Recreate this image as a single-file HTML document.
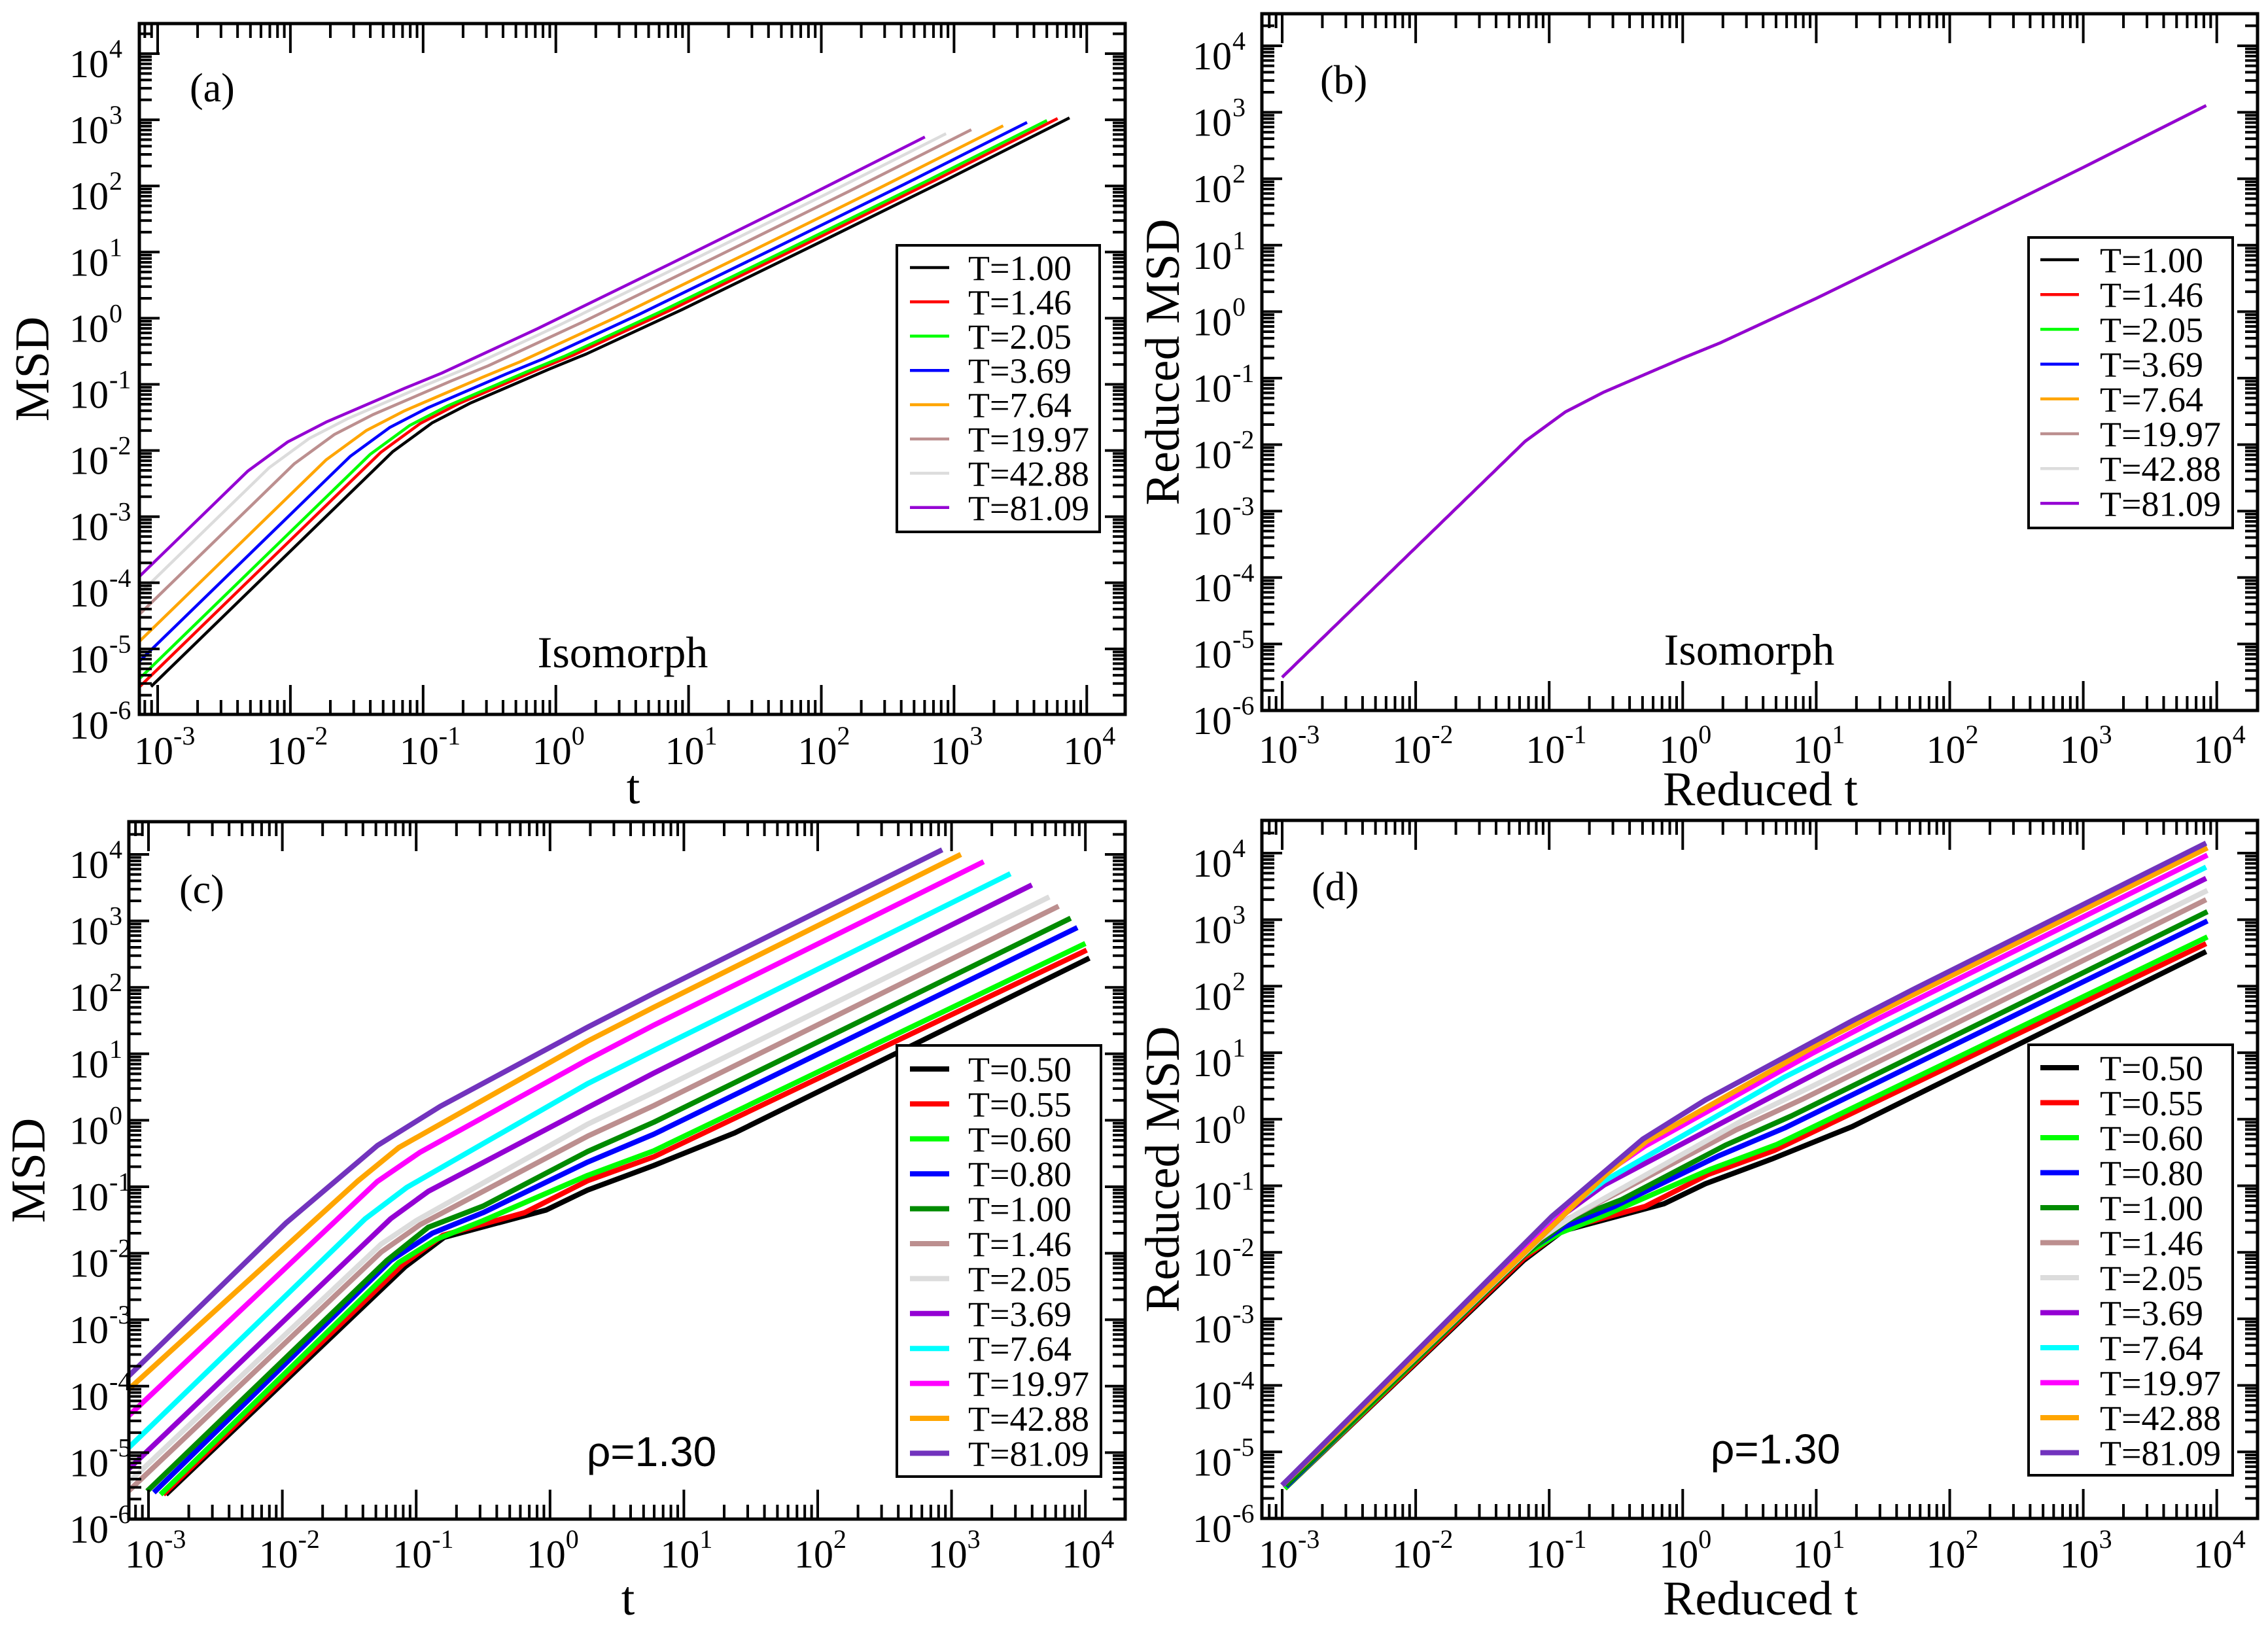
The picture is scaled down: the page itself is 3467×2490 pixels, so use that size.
<!DOCTYPE html>
<html><head><meta charset="utf-8">
<style>
html,body{margin:0;padding:0;background:#fff;}
svg{display:block;}
text{font-family:"Liberation Serif",serif;}
</style></head>
<body>
<svg id="fig" width="3467" height="2490" viewBox="0 0 3467 2490" xmlns="http://www.w3.org/2000/svg">
<rect x="0" y="0" width="3467" height="2490" fill="#fff"/>
</svg>
<script>
// ---------- DATA (log10 values) ----------
// Panel (a): isomorph, MSD vs t
const aLabels = ["T=1.00","T=1.46","T=2.05","T=3.69","T=7.64","T=19.97","T=42.88","T=81.09"];
const aLogT = [
 [-3.05,-1.23,-0.93,-0.64,-0.05,0.23,0.95,1.95,2.95,3.87],
 [-3.14,-1.32,-1.02,-0.73,-0.14,0.14,0.86,1.86,2.86,3.78],
 [-3.22,-1.40,-1.10,-0.81,-0.22,0.06,0.78,1.78,2.78,3.70],
 [-3.37,-1.55,-1.25,-0.96,-0.37,-0.09,0.63,1.63,2.63,3.55],
 [-3.55,-1.73,-1.43,-1.14,-0.55,-0.27,0.45,1.45,2.45,3.37],
 [-3.79,-1.97,-1.67,-1.38,-0.79,-0.51,0.21,1.21,2.21,3.13],
 [-3.98,-2.16,-1.86,-1.57,-0.98,-0.70,0.02,1.02,2.02,2.94],
 [-4.14,-2.32,-2.02,-1.73,-1.14,-0.86,-0.14,0.86,1.86,2.78]
];
const aLogMSD = [
 [-5.57,-2.02,-1.58,-1.28,-0.77,-0.54,0.13,1.11,2.10,3.03],
 [-5.58,-2.03,-1.59,-1.29,-0.78,-0.55,0.12,1.10,2.09,3.02],
 [-5.61,-2.06,-1.62,-1.32,-0.81,-0.58,0.09,1.07,2.06,2.99],
 [-5.64,-2.09,-1.65,-1.35,-0.84,-0.61,0.06,1.04,2.03,2.96],
 [-5.69,-2.14,-1.70,-1.40,-0.89,-0.66,0.01,0.99,1.98,2.91],
 [-5.75,-2.20,-1.76,-1.46,-0.95,-0.72,-0.05,0.93,1.92,2.85],
 [-5.81,-2.26,-1.82,-1.52,-1.01,-0.78,-0.11,0.87,1.86,2.79],
 [-5.86,-2.31,-1.87,-1.57,-1.06,-0.83,-0.16,0.82,1.81,2.74]
];
// Panel (b): reduced units, all isomorph curves collapse
const bLabels = aLabels;
const bLogT = [-3,-1.18,-0.88,-0.59,0,0.28,1,2,3,3.92];
const bLogMSD = [-5.5,-1.95,-1.51,-1.21,-0.70,-0.47,0.20,1.18,2.17,3.10];
// Panel (c): rho = 1.30, MSD vs t
const cLabels = ["T=0.50","T=0.55","T=0.60","T=0.80","T=1.00","T=1.46","T=2.05","T=3.69","T=7.64","T=19.97","T=42.88","T=81.09"];
const cLogT = [
 [-2.87,-1.08,-0.79,-0.03,0.28,0.775,1.38,4.03],
 [-2.89,-1.10,-0.80,-0.19,0.28,0.775,4.01],
 [-2.91,-1.13,-0.85,-0.5,0.28,0.775,4.0],
 [-2.96,-1.19,-0.88,-0.5,0.28,0.775,3.94],
 [-3.01,-1.22,-0.91,-0.5,0.28,0.775,3.89],
 [-3.15,-1.26,-0.97,0.28,0.775,3.80],
 [-3.15,-1.26,-1.0,0.28,0.775,3.73],
 [-3.15,-1.19,-0.91,0.28,0.775,3.60],
 [-3.15,-1.38,-1.07,0.28,0.775,3.44],
 [-3.15,-1.29,-0.97,0.28,0.775,3.24],
 [-3.15,-1.44,-1.13,0.28,0.775,3.07],
 [-3.15,-1.97,-1.29,-0.82,0.28,0.775,2.93]
];
const cLogMSD = [
 [-5.63,-2.20,-1.76,-1.35,-1.05,-0.68,-0.19,2.44],
 [-5.63,-2.17,-1.73,-1.39,-0.91,-0.55,2.56],
 [-5.63,-2.14,-1.79,-1.51,-0.83,-0.46,2.66],
 [-5.60,-2.11,-1.70,-1.39,-0.63,-0.21,2.90],
 [-5.58,-2.11,-1.61,-1.29,-0.47,-0.03,3.04],
 [-5.58,-1.98,-1.57,-0.24,0.22,3.22],
 [-5.45,-1.86,-1.51,-0.06,0.42,3.36],
 [-5.25,-1.48,-1.07,0.19,0.71,3.54],
 [-4.93,-1.48,-1.01,0.55,1.05,3.71],
 [-4.45,-0.92,-0.48,0.91,1.43,3.89],
 [-4.05,-0.92,-0.41,1.19,1.70,4.0],
 [-3.85,-1.54,-0.38,0.21,1.40,1.91,4.07]
];
// Panel (d): rho = 1.30, reduced units
const dLabels = cLabels;
const dLogT = [
 [-2.98,-1.19,-0.90,-0.14,0.17,0.665,1.27,3.92],
 [-2.98,-1.19,-0.89,-0.28,0.19,0.685,3.92],
 [-2.98,-1.20,-0.92,-0.57,0.21,0.705,3.93],
 [-2.97,-1.20,-0.89,-0.51,0.27,0.765,3.93],
 [-2.97,-1.18,-0.87,-0.46,0.32,0.815,3.93],
 [-3.0,-1.14,-0.85,0.40,0.895,3.92],
 [-3.0,-1.06,-0.80,0.48,0.975,3.93],
 [-3.0,-0.87,-0.59,0.60,1.095,3.92],
 [-3.0,-0.90,-0.59,0.76,1.255,3.92],
 [-3.0,-0.60,-0.28,0.97,1.465,3.93],
 [-3.0,-0.58,-0.27,1.14,1.635,3.93],
 [-3.0,-0.98,-0.30,0.17,1.27,1.765,3.92]
];
const dLogMSD = [
 [-5.55,-2.12,-1.68,-1.27,-0.97,-0.60,-0.11,2.52],
 [-5.55,-2.09,-1.65,-1.31,-0.83,-0.47,2.64],
 [-5.55,-2.06,-1.71,-1.43,-0.75,-0.38,2.74],
 [-5.52,-2.03,-1.62,-1.31,-0.55,-0.13,2.98],
 [-5.50,-2.03,-1.53,-1.21,-0.39,0.05,3.12],
 [-5.5,-1.90,-1.49,-0.16,0.30,3.30],
 [-5.5,-1.78,-1.43,0.02,0.50,3.44],
 [-5.5,-1.40,-0.99,0.27,0.79,3.62],
 [-5.5,-1.40,-0.93,0.63,1.13,3.79],
 [-5.5,-0.84,-0.40,0.99,1.51,3.97],
 [-5.5,-0.84,-0.33,1.27,1.78,4.08],
 [-5.5,-1.46,-0.30,0.29,1.48,1.99,4.15]
];
const xTickExps = [-3,-2,-1,0,1,2,3,4];
const yTickExps = [-6,-5,-4,-3,-2,-1,0,1,2,3,4];

// ---------- STYLE / LAYOUT ----------
const colors8 = ["#000000","#ff0000","#00ff00","#0000ff","#ffa500","#bc8f8f","#dcdcdc","#9400d3"];
const colors12 = ["#000000","#ff0000","#00ff00","#0000ff","#008b00","#bc8f8f","#dcdcdc","#9400d3","#00ffff","#ff00ff","#ffa500","#7233bd"];
const NS = "http://www.w3.org/2000/svg";
const svg = document.getElementById("fig");
function mk(tag, attrs, parent){
  const e = document.createElementNS(NS, tag);
  for (const k in attrs) e.setAttribute(k, attrs[k]);
  (parent || svg).appendChild(e);
  return e;
}
const panels = [
 {id:"a", L:213, R:1720, T:36, B:1092, x0:241, dx:202.9, y0:1093, dy:101.1, lab10R:166, xlabBase:1168,
  tag:"(a)", tagX:290, tagY:155, xt:"t", xtX:968, xtY:1228, yt:"MSD", ytX:50,
  note:"Isomorph", noteX:952, noteY:1020, sans:false, lw:4.5,
  leg:{x1:1371,x2:1681,y1:375,y2:813,r0:409,sp:52.4,l1:1391,l2:1451,tx:1480}},
 {id:"b", L:1929, R:3451, T:21, B:1086, x0:1960, dx:204.1, y0:1086, dy:101.6, lab10R:1883, xlabBase:1166,
  tag:"(b)", tagX:2018, tagY:143, xt:"Reduced t", xtX:2691, xtY:1231, yt:"Reduced MSD", ytX:1778,
  note:"Isomorph", noteX:2674, noteY:1016, sans:false, lw:4.5,
  leg:{x1:3101,x2:3413,y1:363,y2:807,r0:397,sp:53.2,l1:3119,l2:3178,tx:3210}},
 {id:"c", L:197, R:1720, T:1256, B:2322, x0:227, dx:204.6, y0:2322, dy:101.6, lab10R:166, xlabBase:2396,
  tag:"(c)", tagX:274, tagY:1380, xt:"t", xtX:960, xtY:2468, yt:"MSD", ytX:44,
  note:"\u03C1=1.30", noteX:996, noteY:2241, sans:true, lw:8,
  leg:{x1:1371,x2:1683,y1:1598,y2:2257,r0:1634,sp:53.4,l1:1391,l2:1451,tx:1480}},
 {id:"d", L:1929, R:3451, T:1254, B:2321, x0:1960, dx:204.1, y0:2321, dy:101.7, lab10R:1883, xlabBase:2396,
  tag:"(d)", tagX:2005, tagY:1376, xt:"Reduced t", xtX:2691, xtY:2468, yt:"Reduced MSD", ytX:1778,
  note:"\u03C1=1.30", noteX:2714, noteY:2237, sans:true, lw:8,
  leg:{x1:3101,x2:3413,y1:1597,y2:2255,r0:1632,sp:53.5,l1:3119,l2:3178,tx:3210}}
];

panels.forEach(p => {
  const X = l => p.x0 + (l + 3) * p.dx;
  const Y = l => p.y0 - (l + 6) * p.dy;
  const g = mk("g", {});
  
  
  const defs = mk("defs", {}, g);
  const cp = mk("clipPath", {id:"clip-" + p.id}, defs);
  mk("rect", {x:p.L, y:p.T, width:p.R - p.L, height:p.B - p.T}, cp);

  const sg = mk("g", {"clip-path":"url(#clip-" + p.id + ")"}, g);
  
  
  let labels, cols, xs, ys;
  if (p.id === "a") { labels = aLabels; cols = colors8; xs = aLogT; ys = aLogMSD; }
  if (p.id === "b") { labels = bLabels; cols = colors8; xs = bLabels.map(() => bLogT); ys = bLabels.map(() => bLogMSD); }
  if (p.id === "c") { labels = cLabels; cols = colors12; xs = cLogT; ys = cLogMSD; }
  if (p.id === "d") { labels = dLabels; cols = colors12; xs = dLogT; ys = dLogMSD; }
  labels.forEach((lab, i) => {
    const pts = xs[i].map((v, k) => X(v).toFixed(1) + "," + Y(ys[i][k]).toFixed(1)).join(" ");
    const pl = mk("polyline", {points:pts, fill:"none", stroke:cols[i], "stroke-width":p.lw, "stroke-linejoin":"round"}, sg);
    
    
  });

  const tg = mk("g", {stroke:"#000", "stroke-width":4}, g);
  
  
  for (let d = -4; d <= 4; d++) {
    for (let k = 1; k <= 9; k++) {
      const l = d + Math.log10(k);
      const x = X(l);
      if (x <= p.L + 2 || x >= p.R - 2) continue;
      const len = k === 1 ? 45 : 22;
      mk("line", {x1:x, y1:p.B, x2:x, y2:p.B - len}, tg);
      mk("line", {x1:x, y1:p.T, x2:x, y2:p.T + len}, tg);
    }
  }
  for (let d = -7; d <= 4; d++) {
    for (let k = 1; k <= 9; k++) {
      const l = d + Math.log10(k);
      const y = Y(l);
      if (y <= p.T + 2 || y >= p.B - 2) continue;
      const len = k === 1 ? 31 : 19;
      mk("line", {x1:p.L, y1:y, x2:p.L + len, y2:y}, tg);
      mk("line", {x1:p.R, y1:y, x2:p.R - len, y2:y}, tg);
    }
  }
  const fr = mk("rect", {x:p.L, y:p.T, width:p.R - p.L, height:p.B - p.T, fill:"none", stroke:"#000", "stroke-width":5}, g);
  
  

  xTickExps.forEach(e => {
    const x = X(e);
    const t = mk("text", {x:x - 36, y:p.xlabBase, "font-size":60}, g);
    t.textContent = "10";
    const s = mk("tspan", {dy:-30, "font-size":40}, t);
    s.textContent = String(e);
    
    
  });
  yTickExps.forEach(e => {
    const y = Y(e) + 36;
    const t = mk("text", {x:p.lab10R, y:y, "font-size":60, "text-anchor":"end"}, g);
    t.textContent = "10";
    
    
    const s = mk("text", {x:p.lab10R + 1, y:y - 30, "font-size":40}, g);
    s.textContent = String(e);
    
    
  });

  const xt = mk("text", {x:p.xtX, y:p.xtY, "font-size":74, "text-anchor":"middle"}, g);
  xt.textContent = p.xt;
  
  
  const cy = (p.T + p.B) / 2;
  const yt = mk("text", {x:p.ytX, y:cy, "font-size":74, "text-anchor":"middle", "dominant-baseline":"central", transform:"rotate(-90 " + p.ytX + " " + cy + ")"}, g);
  yt.textContent = p.yt;
  
  

  const tg2 = mk("text", {x:p.tagX, y:p.tagY, "font-size":62}, g);
  tg2.textContent = p.tag;
  
  
  const nt = mk("text", {x:p.noteX, y:p.noteY, "font-size":p.sans ? 64 : 68, "text-anchor":"middle", style:p.sans ? 'font-family:"Liberation Sans",sans-serif' : ''}, g);
  nt.textContent = p.note;
  
  

  const lg = mk("g", {}, g);
  
  
  const Lg = p.leg;
  mk("rect", {x:Lg.x1, y:Lg.y1, width:Lg.x2 - Lg.x1, height:Lg.y2 - Lg.y1, fill:"#fff", stroke:"#000", "stroke-width":4}, lg);
  labels.forEach((lab, i) => {
    const yy = Lg.r0 + i * Lg.sp;
    const ln = mk("line", {x1:Lg.l1, y1:yy, x2:Lg.l2, y2:yy, stroke:cols[i], "stroke-width":p.lw}, lg);
    
    
    const tx = mk("text", {x:Lg.tx, y:yy + 19, "font-size":54}, lg);
    tx.textContent = lab;
    
    
  });
});
</script>
</body></html>
